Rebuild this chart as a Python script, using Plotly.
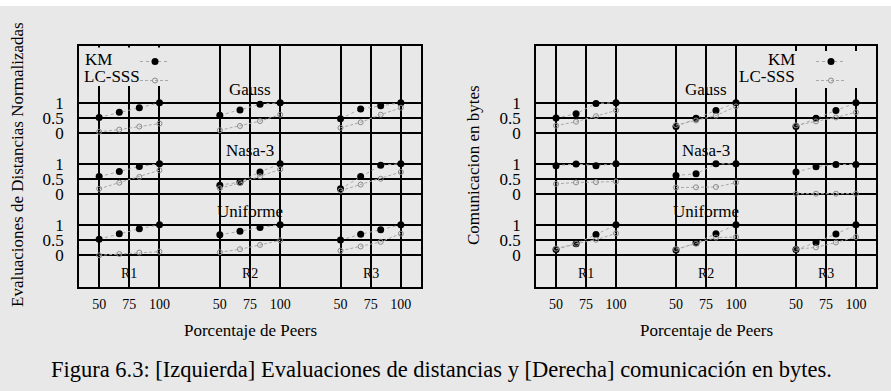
import plotly.graph_objects as go

W, H = 891, 391

# x positions inside each group (porcentaje de peers) and group names
pct = [50, 66.7, 83.3, 100]
groups = ["R1", "R2", "R3"]
datasets = ["Uniforme", "Nasa-3", "Gauss"]   # bottom -> top
tick_pct = [50, 75, 100]

# [Izquierda] evaluaciones de distancias normalizadas
eval_km = {
    "Gauss": [[0.52, 0.69, 0.84, 1.0], [0.59, 0.76, 0.95, 1.0], [0.48, 0.80, 0.90, 1.0]],
    "Nasa-3": [[0.58, 0.75, 0.91, 1.0], [0.30, 0.40, 0.73, 1.0], [0.18, 0.58, 0.95, 1.0]],
    "Uniforme": [[0.53, 0.71, 0.87, 1.0], [0.67, 0.79, 0.91, 1.0], [0.50, 0.69, 0.84, 1.0]],
}
eval_lc = {
    "Gauss": [[0.05, 0.12, 0.22, 0.32], [0.10, 0.24, 0.40, 0.61], [0.18, 0.36, 0.61, 0.84]],
    "Nasa-3": [[0.18, 0.38, 0.57, 0.79], [0.20, 0.37, 0.59, 0.82], [0.12, 0.32, 0.51, 0.73]],
    "Uniforme": [[0.00, 0.04, 0.09, 0.12], [0.10, 0.20, 0.34, 0.49], [0.15, 0.29, 0.44, 0.71]],
}
# [Derecha] comunicacion en bytes
com_km = {
    "Gauss": [[0.50, 0.64, 0.98, 1.0], [0.22, 0.49, 0.75, 1.0], [0.22, 0.49, 0.75, 1.0]],
    "Nasa-3": [[0.94, 0.99, 0.94, 1.0], [0.62, 0.67, 1.0, 1.0], [0.73, 0.90, 0.98, 0.98]],
    "Uniforme": [[0.19, 0.38, 0.68, 1.0], [0.17, 0.41, 0.71, 1.0], [0.19, 0.42, 0.70, 1.0]],
}
com_lc = {
    "Gauss": [[0.25, 0.38, 0.56, 0.75], [0.27, 0.42, 0.58, 0.88], [0.26, 0.39, 0.52, 0.69]],
    "Nasa-3": [[0.34, 0.39, 0.40, 0.42], [0.22, 0.23, 0.24, 0.38], [0.02, 0.02, 0.02, 0.02]],
    "Uniforme": [[0.22, 0.38, 0.51, 0.72], [0.20, 0.38, 0.58, 0.60], [0.20, 0.26, 0.42, 0.60]],
}

GROUP_STEP = 100
BLOCK_STEP = 2
BG = "#e8e8e8"
FONT = "Liberation Serif"


def px(x):
    return x / W


def py(y):
    return 1 - y / H


fig = go.Figure()


def add_panel(km, lc, xa, ya, legend):
    for b, ds in enumerate(datasets):
        for g in range(len(groups)):
            xs = [p + g * GROUP_STEP for p in pct]
            first = (b == 0 and g == 0)
            fig.add_trace(go.Scatter(
                x=xs, y=[v + b * BLOCK_STEP for v in km[ds][g]], xaxis=xa, yaxis=ya,
                mode="lines+markers", name="", legend=legend, showlegend=first,
                line=dict(color="#a8a8a8", width=1, dash="dot"),
                marker=dict(color="black", size=7)))
            fig.add_trace(go.Scatter(
                x=xs, y=[v + b * BLOCK_STEP for v in lc[ds][g]], xaxis=xa, yaxis=ya,
                mode="lines+markers", name="", legend=legend, showlegend=first,
                line=dict(color="#a8a8a8", width=1, dash="3px,2px"),
                marker=dict(symbol="circle-open", color="#8a8a8a", size=5, line=dict(width=1))))


add_panel(eval_km, eval_lc, "x", "y", "legend")
add_panel(com_km, com_lc, "x2", "y2", "legend2")

xt = [p + g * GROUP_STEP for g in range(len(groups)) for p in tick_pct]
xt_text = [str(p) for g in range(len(groups)) for p in tick_pct]
yt = [b * BLOCK_STEP + v for b in range(len(datasets)) for v in (0, 0.5, 1)]
yt_text = ["0", "0.5", "1"] * len(datasets)

xaxis_common = dict(range=[33.3, 316.7], tickvals=xt, ticktext=xt_text, showgrid=True,
                    gridcolor="black", gridwidth=1.5, zeroline=False, showline=True,
                    linecolor="black", linewidth=1.5, mirror="ticks", ticks="inside",
                    ticklen=4, tickcolor="black", tickwidth=1.5, ticklabelstandoff=3,
                    tickfont=dict(family=FONT, size=14, color="black"))
yaxis_common = dict(range=[-1.039, 6.862], tickvals=yt, ticktext=yt_text, showgrid=True,
                    gridcolor="black", gridwidth=1.5, zeroline=False, showline=True,
                    linecolor="black", linewidth=1.5, mirror=True, ticks="",
                    ticklabelstandoff=10, domain=[py(287), py(46)],
                    tickfont=dict(family=FONT, size=17, color="black"))

legend_common = dict(yanchor="top", xanchor="left", bgcolor="rgba(0,0,0,0)",
                     font=dict(size=9), tracegroupgap=0, itemwidth=30, y=py(47))

fig.update_layout(
    width=W, height=H, margin=dict(l=0, r=0, t=0, b=0),
    paper_bgcolor=BG, plot_bgcolor=BG,
    font=dict(family=FONT, color="black"),
    xaxis=dict(xaxis_common, domain=[px(79), px(421)], anchor="y"),
    yaxis=dict(yaxis_common, anchor="x"),
    xaxis2=dict(xaxis_common, domain=[px(536), px(876)], anchor="y2"),
    yaxis2=dict(yaxis_common, anchor="x2"),
    legend=dict(legend_common, x=px(135)),
    legend2=dict(legend_common, x=px(811)),
)

shapes = [
    dict(type="rect", xref="paper", yref="paper", x0=0, x1=1, y0=py(6), y1=1,
         fillcolor="white", line_width=0, layer="below"),
    # legend boxes hide the grid
    dict(type="rect", xref="paper", yref="paper", x0=px(80), x1=px(186), y0=py(86), y1=py(47.5),
         fillcolor=BG, line_width=0, layer="above"),
    dict(type="rect", xref="paper", yref="paper", x0=px(739), x1=px(875), y0=py(88), y1=py(51),
         fillcolor=BG, line_width=0, layer="above"),
]
fig.update_layout(shapes=shapes)

ann = []
for xa, ya in (("x", "y"), ("x2", "y2")):
    for b, ds in enumerate(datasets):
        ann.append(dict(x=75 + GROUP_STEP, y=b * BLOCK_STEP + 1.45, xref=xa, yref=ya, text=ds,
                        showarrow=False, xanchor="center", yanchor="middle",
                        font=dict(size=17, color="black")))
    for g, name in enumerate(groups):
        ann.append(dict(x=75 + g * GROUP_STEP, y=-0.58, xref=xa, yref=ya, text=name,
                        showarrow=False, xanchor="center", yanchor="middle",
                        font=dict(size=14, color="black")))

for txt, x, y, anchor in (("KM", 83, 59, "left"), ("LC-SSS", 82, 77, "left"),
                          ("KM", 797, 59, "right"), ("LC-SSS", 797, 77, "right")):
    ann.append(dict(x=px(x), y=py(y), xref="paper", yref="paper", text=txt, showarrow=False,
                    xanchor=anchor, yanchor="middle", font=dict(size=17, color="black")))


def paper_text(txt, x, y, size, angle=0):
    return dict(x=px(x), y=py(y), xref="paper", yref="paper", text=txt, showarrow=False,
                textangle=angle, xanchor="center", yanchor="middle",
                font=dict(size=size, color="black"))


ann += [
    paper_text("Evaluaciones de Distancias Normalizadas", 17, 165, 17, -90),
    paper_text("Comunicacion en bytes", 473, 165, 17, -90),
    paper_text("Porcentaje de Peers", 250, 330, 17),
    paper_text("Porcentaje de Peers", 706, 330, 17),
    paper_text("Figura 6.3: [Izquierda] Evaluaciones de distancias y [Derecha] comunicación en bytes.",
               441, 369, 22.5),
]
fig.update_layout(annotations=ann)

fig.write_html("out.html", config={"displayModeBar": False},
               post_script="document.body.style.margin='0';")
